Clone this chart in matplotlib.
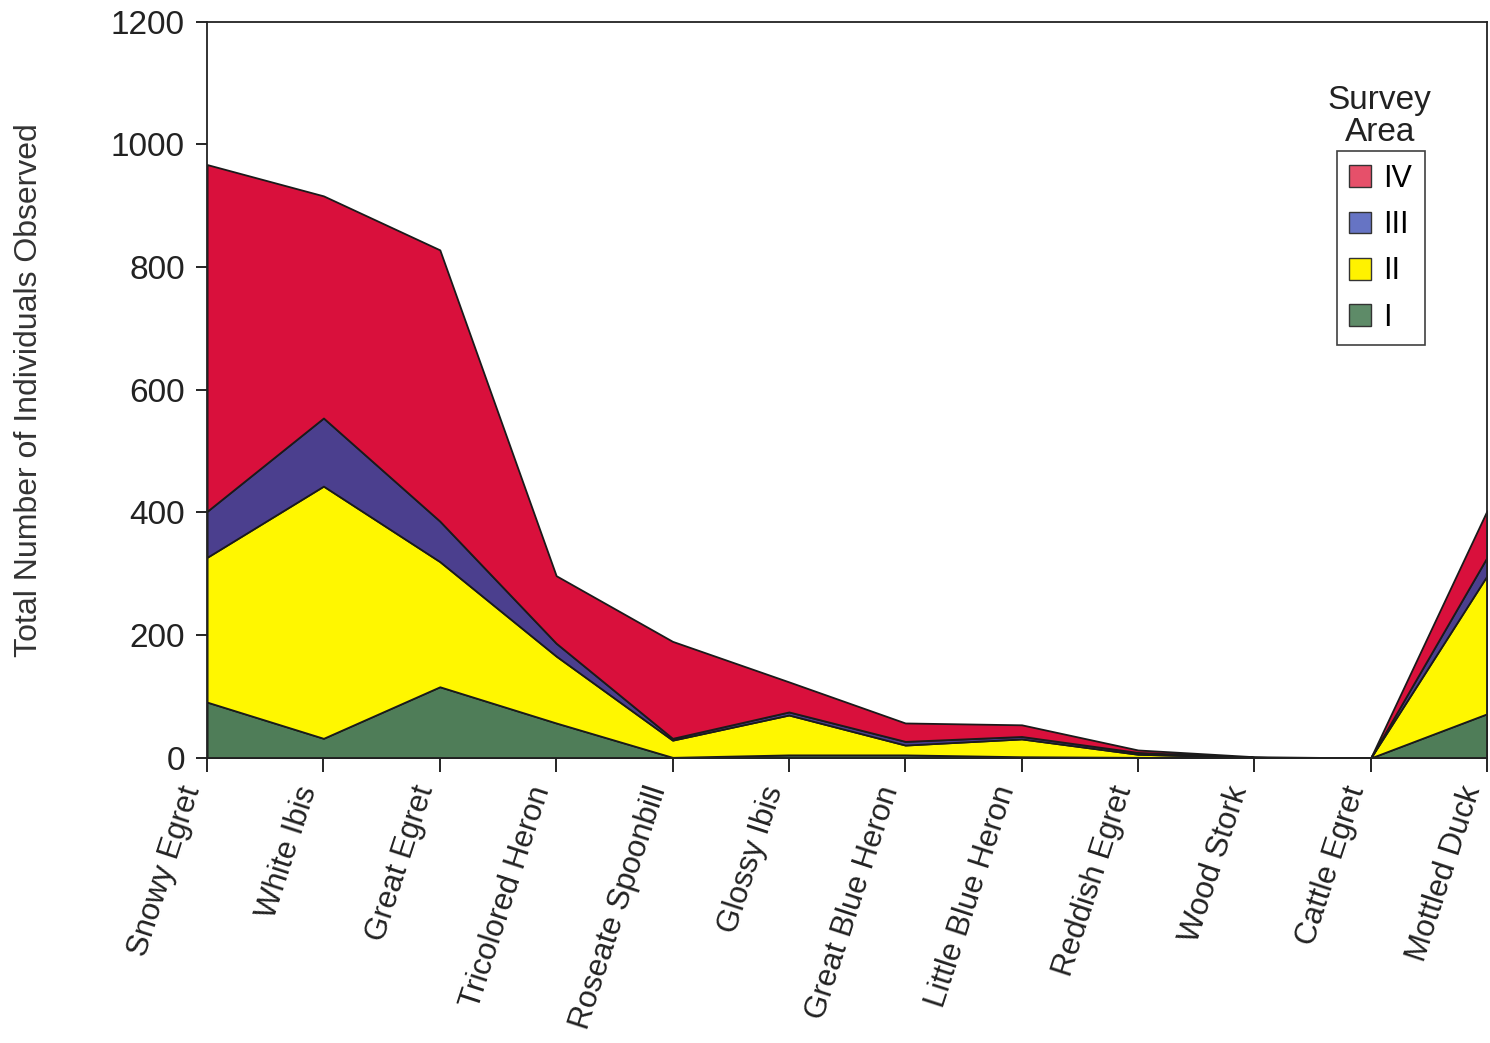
import matplotlib
matplotlib.use("Agg")
import matplotlib.pyplot as plt
from matplotlib.patches import Patch

plt.rcParams['font.family'] = ['Liberation Sans', 'DejaVu Sans']

# species along the x axis
species = ["Snowy Egret", "White Ibis", "Great Egret", "Tricolored Heron",
           "Roseate Spoonbill", "Glossy Ibis", "Great Blue Heron",
           "Little Blue Heron", "Reddish Egret", "Wood Stork",
           "Cattle Egret", "Mottled Duck"]

# counts per survey area (stacked bottom to top: I, II, III, IV)
area_i = [91, 32, 116, 57, 1, 5, 5, 2, 1, 1, 0, 72]
area_ii = [236, 411, 204, 109, 28, 65, 16, 29, 5, 0, 0, 225]
area_iii = [75, 111, 66, 21, 3, 5, 6, 4, 3, 0, 0, 30]
area_iv = [565, 362, 442, 110, 158, 49, 30, 19, 4, 1, 0, 76]

labels = ["I", "II", "III", "IV"]
colors = ["#4f7d58", "#fff700", "#4b3f8e", "#d9103c"]
# the legend swatches print lighter than the areas
swatch_colors = ["#5e8b68", "#fff200", "#6674c4", "#e6506a"]

fig = plt.figure(figsize=(14.9, 10.43), dpi=100)
ax = fig.add_axes([0.139, 0.2733, 0.859, 0.706])

x = list(range(len(species)))
ax.stackplot(x, area_i, area_ii, area_iii, area_iv, colors=colors,
             edgecolor="#1a1a1a", linewidth=1.3)

ax.set_xlim(0, len(species) - 1)
ax.set_ylim(0, 1200)
ax.set_yticks(range(0, 1201, 200))
ax.set_xticks(x)
ax.set_xticklabels(species, rotation=72, ha="right", va="bottom",
                   rotation_mode="anchor", fontsize=22.5, color="#222222")
ax.tick_params(axis="y", labelsize=24, labelcolor="#222222", length=8,
               width=1.2, pad=8)
ax.tick_params(axis="x", length=10, width=1.2, pad=14)
for s in ax.spines.values():
    s.set_linewidth(1.3)
    s.set_color("#222222")

ax.set_ylabel("Total Number of Individuals Observed", fontsize=23,
              color="#333333", labelpad=48)

# legend: title sits above the box in the original
handles = [Patch(facecolor=swatch_colors[i], edgecolor="#333333",
                 label=labels[i]) for i in range(3, -1, -1)]
leg = fig.legend(handles=handles, loc="upper left",
                 bbox_to_anchor=(0.897, 0.855), borderaxespad=0,
                 fontsize=22, frameon=True, fancybox=False,
                 handlelength=0.72, handleheight=0.72, handletextpad=0.4,
                 labelspacing=0.53, borderpad=0.42)
leg.get_frame().set_edgecolor("#111111")
leg.get_frame().set_linewidth(1.2)
fig.text(0.926, 0.858, "Survey\nArea", ha="center", va="bottom",
         fontsize=24, color="#222222", linespacing=1.05)

fig.savefig("out.png", dpi=100, facecolor="white")
